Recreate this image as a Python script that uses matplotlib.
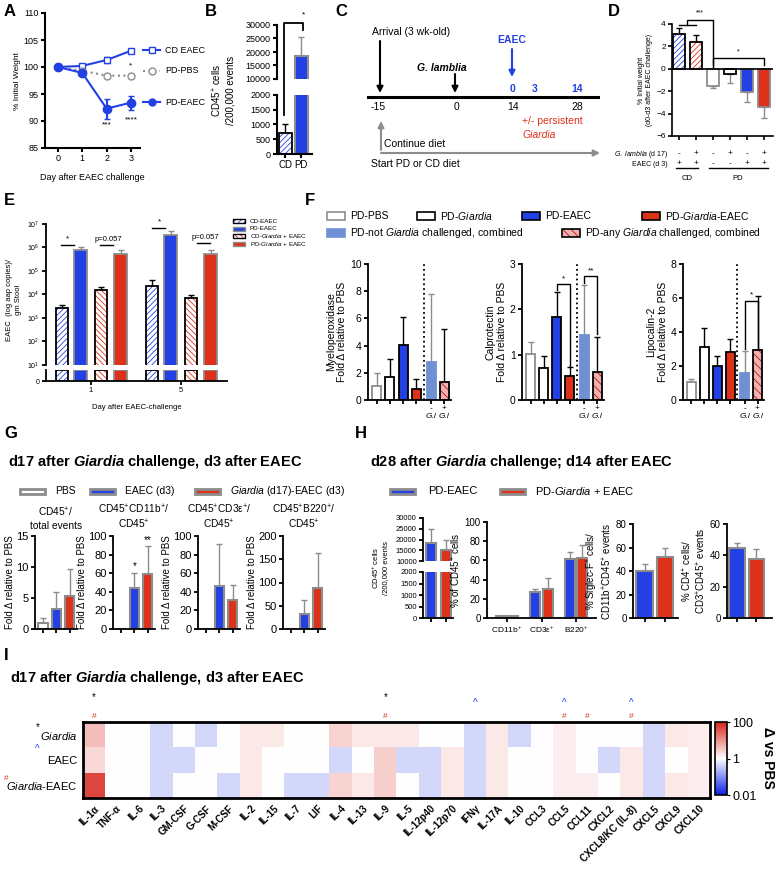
import matplotlib
matplotlib.use('Agg')
import matplotlib.pyplot as plt
from matplotlib.patches import Rectangle
from matplotlib.colors import LinearSegmentedColormap

plt.rcParams['font.family'] = ['Liberation Sans', 'DejaVu Sans']
plt.rcParams['mathtext.fontset'] = 'custom'
plt.rcParams['mathtext.rm'] = 'Liberation Sans'
plt.rcParams['mathtext.it'] = 'Liberation Sans:italic'
plt.rcParams['mathtext.bf'] = 'Liberation Sans:bold'
plt.rcParams['mathtext.bfit'] = 'Liberation Sans:bold:italic'
plt.rcParams['hatch.linewidth'] = 0.6
plt.rcParams['axes.linewidth'] = 1.2

BLUE = '#2340e4'
RED = '#dd3219'
GREY = '#8c8c8c'
LBLUE = '#7090d4'
PINK = '#f2b0b0'

# ---------------- data ----------------
# A: weight after EAEC challenge
days = [0, 1, 2, 3]
cd_eaec_wt = [100, 100.2, 101.3, 103.0]
cd_eaec_sd = [0.2, 0.4, 0.6, 0.4]
pd_pbs_wt = [100, 99.3, 98.4, 98.4]
pd_pbs_sd = [0.2, 0.3, 0.3, 0.3]
pd_eaec_wt = [100, 98.9, 92.3, 93.4]
pd_eaec_sd = [0.2, 0.4, 1.85, 1.3]

# B: CD45+ cells
b_groups = ['CD', 'PD']
b_cells = [700, 18500]
b_sd = [300, 7000]

# D: weight change d0-d3
d_change = [3.1, 2.4, -1.5, -0.5, -2.1, -3.4]
d_sd = [0.5, 0.6, 0.2, 0.8, 0.9, 1.0]
d_glamblia = ['-', '+', '-', '+', '-', '+']
d_eaec = ['+', '+', '-', '-', '+', '+']

# E: EAEC shedding
e_days = ['1', '5']
e_labels = ['CD-EAEC', 'PD-EAEC', r'CD-$\it{Giardia}$ + EAEC', r'PD-$\it{Giardia}$ + EAEC']
e_cd_eaec = [2.7e3, 2.3e4]
e_cd_eaec_sd = [1.0e3, 2.0e4]
e_pd_eaec = [7.5e5, 3.3e6]
e_pd_eaec_sd = [3.0e5, 1.5e6]
e_cd_gi = [1.5e4, 7.2e3]
e_cd_gi_sd = [5.0e3, 2.0e3]
e_pd_gi = [5.5e5, 5.2e5]
e_pd_gi_sd = [2.5e5, 2.5e5]

# F: fecal markers
f_labels = ['PD-PBS', r'PD-$\it{Giardia}$', 'PD-EAEC', r'PD-$\it{Giardia}$-EAEC',
            r'PD-not $\it{Giardia}$ challenged, combined', r'PD-any $\it{Giardia}$ challenged, combined']
f_mpo = [1.05, 1.72, 4.05, 0.79, 2.78, 1.35]
f_mpo_sd = [0.95, 1.3, 2.05, 0.75, 5.0, 3.9]
f_cal = [1.01, 0.71, 1.84, 0.52, 1.44, 0.61]
f_cal_sd = [0.26, 0.25, 0.54, 0.2, 1.09, 0.79]
f_lcn = [1.05, 3.1, 2.02, 2.81, 1.57, 2.95]
f_lcn_sd = [0.2, 1.16, 0.58, 0.79, 1.33, 3.15]

# G: d17 flow
g_titles = [r'CD45$^{+}$/' + '\ntotal events', r'CD45$^{+}$CD11b$^{+}$/' + '\n' + r'CD45$^{+}$',
            r'CD45$^{+}$CD3ε$^{+}$/' + '\n' + r'CD45$^{+}$', r'CD45$^{+}$B220$^{+}$/' + '\n' + r'CD45$^{+}$']
g_pbs = [1.0, 0.5, 0.3, 1.0]
g_pbs_sd = [0.7, 0, 0, 0]
g_eaec = [3.2, 44, 46, 32]
g_eaec_sd = [2.8, 16, 45, 30]
g_gi = [5.4, 59, 31, 89]
g_gi_sd = [4.3, 30.5, 16, 75]
g_ymax = [15, 100, 100, 200]
g_step = [5, 20, 20, 50]

# H: d28 flow
h_cells = [18400, 15300]
h_cells_sd = [6600, 4400]
h_pop = ['CD11b$^{+}$', 'CD3ε$^{+}$', 'B220$^{+}$']
h_pop_eaec = [2, 27, 61]
h_pop_eaec_sd = [0.3, 3, 8]
h_pop_gi = [2, 30.7, 62]
h_pop_gi_sd = [0.3, 11.3, 14]
h_siglec = [40, 52.2]
h_siglec_sd = [5.6, 7.1]
h_cd4 = [44.5, 37.4]
h_cd4_sd = [3.5, 6.4]

# I: cytokine heatmap (log10 fold vs PBS)
cytokines = ['IL-1α', 'TNF-α', 'IL-6', 'IL-3', 'GM-CSF', 'G-CSF', 'M-CSF', 'IL-2', 'IL-15', 'IL-7',
             'LIF', 'IL-4', 'IL-13', 'IL-9', 'IL-5', 'IL-12p40', 'IL-12p70', 'IFNγ', 'IL-17A', 'IL-10',
             'CCL3', 'CCL5', 'CCL11', 'CXCL2', 'CXCL8/KC (IL-8)', 'CXCL5', 'CXCL9', 'CXCL10']
heat_giardia = [0.6, 0, 0, -0.35, 0, -0.35, 0, 0.2, 0.2, 0, 0, 0.4, 0.2, 0.2, 0.2, 0, 0, -0.35,
                0.2, -0.35, 0, 0.15, 0, 0, 0, -0.35, 0.2, 0.15]
heat_eaec = [0.35, 0, 0, -0.35, -0.35, 0, 0, 0.2, 0, 0, 0, -0.35, 0, 0.45, -0.35, -0.35, 0.2, -0.35,
             0.2, 0, 0, 0.15, 0, -0.35, 0.2, -0.35, 0, 0.15]
heat_gi_eaec = [1.7, 0, 0, -0.35, 0, 0, -0.35, 0.2, 0, -0.35, -0.35, 0.4, 0.2, 0.45, 0, -0.35, 0.2, -0.35,
                0.2, 0, 0, 0.15, 0.15, 0, 0.2, -0.35, 0.2, 0.15]
star_cols = ['IL-1α', 'IL-9']
caret_cols = ['IFNγ', 'CCL5', 'CXCL8/KC (IL-8)']
hash_cols = ['IL-1α', 'IL-9', 'CCL5', 'CCL11', 'CXCL8/KC (IL-8)']

# ---------------- helpers ----------------
W, H = 776, 872
fig = plt.figure(figsize=(W / 100, H / 100), dpi=100)


def px_axes(x0, y0, x1, y1):
    return fig.add_axes([x0 / W, 1 - y1 / H, (x1 - x0) / W, (y1 - y0) / H])


def style(ax, fs=6.5, lw=1.2):
    for s in ['top', 'right']:
        ax.spines[s].set_visible(False)
    for s in ['left', 'bottom']:
        ax.spines[s].set_linewidth(lw)
    ax.tick_params(labelsize=fs, width=lw, length=3, pad=1.5)


def draw_bar(ax, x, h, w, face='white', edge='black', lw=1.2, hatch=None, hcol=None,
             err=None, ecol=None, bottom=0, z=2):
    if hatch:
        ax.bar(x, h, w, bottom=bottom, color=face, edgecolor=hcol, hatch=hatch, linewidth=0, zorder=z)
        ax.bar(x, h, w, bottom=bottom, facecolor='none', edgecolor=edge, linewidth=lw, zorder=z + 0.1)
    else:
        ax.bar(x, h, w, bottom=bottom, color=face, edgecolor=edge, linewidth=lw, zorder=z)
    if err:
        top = bottom + h
        yerr = [[0], [err]] if h >= 0 else [[err], [0]]
        ax.errorbar([x], [top], yerr=yerr, fmt='none', ecolor=ecol or edge, elinewidth=1,
                    capsize=2, capthick=1, zorder=z - 0.5)


# overlay for text, arrows and legends in pixel coordinates
ov = fig.add_axes([0, 0, 1, 1], zorder=10)
ov.set_xlim(0, W)
ov.set_ylim(H, 0)
ov.axis('off')


def T(x, y, s, **kw):
    kw.setdefault('va', 'center')
    ov.text(x, y, s, **kw)


def L(xs, ys, **kw):
    kw.setdefault('color', 'black')
    kw.setdefault('lw', 1)
    ov.plot(xs, ys, **kw)


def box(x, y, w, h, **kw):
    ov.add_patch(Rectangle((x, y - h / 2), w, h, **kw))


def arrow(x0, y0, x1, y1, color='black', lw=1.5):
    ov.annotate('', xy=(x1, y1), xytext=(x0, y0),
                arrowprops=dict(arrowstyle='-|>', color=color, lw=lw, mutation_scale=9, shrinkA=0, shrinkB=0))


for lab, x, y in [('A', 4, 12), ('B', 205, 12), ('C', 335, 12), ('D', 608, 12), ('E', 4, 200),
                  ('F', 305, 200), ('G', 4, 433), ('H', 355, 433), ('I', 4, 655)]:
    T(x, y, lab, fontsize=12, fontweight='bold')

# ---------------- A ----------------
axA = px_axes(45, 13, 140, 148)
style(axA, fs=6.5, lw=1.5)
axA.errorbar(days, cd_eaec_wt, yerr=cd_eaec_sd, color=BLUE, marker='s', mfc='white', mec=BLUE,
             ms=5, lw=1.5, capsize=2, clip_on=False)
axA.errorbar(days, pd_pbs_wt, yerr=pd_pbs_sd, color=GREY, ls=':', marker='o', mfc='white', mec=GREY,
             ms=5, lw=1.5, capsize=2, clip_on=False)
axA.errorbar(days, pd_eaec_wt, yerr=pd_eaec_sd, color=BLUE, marker='o', ms=6, lw=1.5, capsize=2,
             clip_on=False)
axA.set_xlim(-0.53, 3.37)
axA.set_ylim(85, 110)
axA.set_yticks(range(85, 111, 5))
axA.set_xticks(days)
axA.set_ylabel('% Initial Weight', fontsize=6, labelpad=2)
axA.set_xlabel('Day after EAEC challenge', fontsize=6.5, labelpad=7)
for lab, y, kw in [('CD EAEC', 103.1, dict(color=BLUE, marker='s', mfc='white', ls='-')),
                   ('PD-PBS', 99.3, dict(color=GREY, marker='o', mfc='white', ls=':')),
                   ('PD-EAEC', 93.5, dict(color=BLUE, marker='o', ls='-'))]:
    axA.plot([3.5, 4.2], [y, y], clip_on=False, lw=1.5, **{k: v for k, v in kw.items() if k in ('color', 'ls')})
    axA.plot([3.85], [y], clip_on=False, ms=5, **{k: v for k, v in kw.items() if k != 'ls'})
    axA.text(4.4, y, lab, fontsize=6.5, va='center')
axA.text(3, 99.6, '*', ha='center', va='bottom', fontsize=6)
axA.text(2, 89.3, '***', ha='center', va='center', fontsize=6)
axA.text(3, 90.2, '****', ha='center', va='center', fontsize=6)

# ---------------- B ----------------
bx = [0, 1]
axBt = px_axes(277, 25, 312, 79)
axBb = px_axes(277, 95, 312, 154)
for ax in (axBt, axBb):
    style(ax, fs=6.5, lw=1.5)
    ax.set_xlim(-0.5, 1.65)
axBt.spines['bottom'].set_visible(False)
axBt.set_xticks([])
axBt.set_ylim(10000, 30000)
axBt.set_yticks(range(10000, 30001, 5000))
axBb.set_ylim(0, 2000)
axBb.set_yticks(range(0, 2001, 500))
axBb.set_xticks(bx)
axBb.set_xticklabels(b_groups, fontsize=7)
draw_bar(axBb, bx[0], b_cells[0], 0.8, face='white', edge='black', lw=1.3, hatch='//////', hcol=BLUE,
         err=b_sd[0], ecol='black')
draw_bar(axBb, bx[1], b_cells[1], 0.8, face=BLUE, edge=GREY, lw=1.5)
draw_bar(axBt, bx[1], b_cells[1], 0.8, face=BLUE, edge=GREY, lw=1.5, err=b_sd[1], ecol=GREY)
T(223, 90, r'CD45$^{+}$ cells' + '\n/200,000 events', fontsize=7, rotation=90, ha='center')
L([284, 284, 303, 303], [115, 23, 23, 30], lw=1.3)
T(303, 15, '*', fontsize=6, ha='center')

# ---------------- C ----------------
L([368, 598], [97, 97], lw=2.2)
for s, x in [('-15', 378), ('0', 457), ('14', 513), ('28', 577)]:
    T(x, 107, s, fontsize=7.5, ha='center')
for s, x in [('0', 512), ('3', 535), ('14', 577)]:
    T(x, 89, s, fontsize=7.5, ha='center', color=BLUE, fontweight='bold')
T(372, 32, 'Arrival (3 wk-old)', fontsize=7.5)
arrow(380, 41, 380, 93)
T(442, 68, 'G. lamblia', fontsize=7.5, ha='center', fontweight='bold', style='italic')
arrow(455, 74, 455, 93)
T(512, 40, 'EAEC', fontsize=7.5, ha='center', fontweight='bold', color=BLUE)
arrow(512, 49, 512, 77, color=BLUE)
T(522, 121, '+/- persistent', fontsize=7.5, color=RED)
T(522, 135, 'Giardia', fontsize=7.5, color=RED, style='italic')
arrow(381, 150, 381, 121, color=GREY)
T(384, 144, 'Continue diet', fontsize=7.5)
arrow(381, 153, 600, 153, color=GREY)
T(371, 164, 'Start PD or CD diet', fontsize=7.5)

# ---------------- D ----------------
axD = px_axes(672, 24, 773, 136)
style(axD, fs=6, lw=1.2)
dx = list(range(6))
d_styles = [dict(face='white', edge='black', hatch='//////', hcol=BLUE, ecol='black'),
            dict(face='white', edge='black', hatch='//////', hcol=RED, ecol='black'),
            dict(face='white', edge=GREY, ecol=GREY),
            dict(face='white', edge='black', ecol=GREY),
            dict(face=BLUE, edge=GREY, ecol=GREY),
            dict(face=RED, edge=GREY, ecol=GREY)]
for x, v, e, st in zip(dx, d_change, d_sd, d_styles):
    draw_bar(axD, x, v, 0.7, lw=1.3, err=e, **st)
axD.axhline(0, color='black', lw=1.2, zorder=3)
axD.set_xlim(-0.41, 5.53)
axD.set_ylim(-6, 4)
axD.set_yticks(range(-6, 5, 2))
axD.set_xticks(dx)
axD.set_xticklabels([])
axD.set_ylabel('% Initial weight\n(d0-d3 after EAEC challenge)', fontsize=5, labelpad=2)
axD.plot([0.5, 0.5, 2, 2], [3.9, 4.4, 4.4, 0.15], color='black', lw=1, clip_on=False)
axD.plot([0, 1], [3.9, 3.9], color='black', lw=1, clip_on=False)
axD.text(1.2, 4.7, '***', ha='center', va='bottom', fontsize=5)
axD.plot([2, 2, 5, 5], [0.3, 1.0, 1.0, 0.3], color='black', lw=1, clip_on=False)
axD.text(3.5, 1.2, '*', ha='center', va='bottom', fontsize=5)
trD = axD.get_xaxis_transform()
for x, g, e in zip(dx, d_glamblia, d_eaec):
    axD.text(x, -0.16, g, transform=trD, ha='center', va='center', fontsize=6)
    axD.text(x, -0.25, e, transform=trD, ha='center', va='center', fontsize=6)
T(668, 154, r'$\it{G.\ lamblia}$ (d 17)', fontsize=5, ha='right')
T(668, 164, 'EAEC (d 3)', fontsize=5, ha='right')
L([676, 698], [168, 168])
L([709, 768], [168, 168])
T(687, 178, 'CD', fontsize=5.5, ha='center')
T(738, 178, 'PD', fontsize=5.5, ha='center')

# ---------------- E ----------------
axEt = px_axes(46, 224, 227, 365)
axEb = px_axes(46, 370, 227, 381)
for ax in (axEt, axEb):
    style(ax, fs=5, lw=1.3)
    ax.set_xlim(-2.31, 6.97)
axEt.set_yscale('log')
axEt.set_ylim(10, 1e7)
axEt.set_yticks([10 ** k for k in range(1, 8)])
axEt.set_yticklabels([r'$10^{%d}$' % k for k in range(1, 8)])
axEt.minorticks_off()
axEt.spines['bottom'].set_visible(False)
axEt.set_xticks([])
axEb.set_ylim(0, 1)
axEb.set_yticks([0])
e_centers = [0, 4.615]
axEb.set_xticks(e_centers)
axEb.set_xticklabels(e_days, fontsize=5.5)
axEb.set_xlabel('Day after EAEC-challenge', fontsize=5.5, labelpad=7)
e_series = [(e_cd_eaec, e_cd_eaec_sd, dict(face='white', edge='black', hatch='//////', hcol=BLUE, ecol='black')),
            (e_pd_eaec, e_pd_eaec_sd, dict(face=BLUE, edge=GREY, ecol=GREY)),
            (e_cd_gi, e_cd_gi_sd, dict(face='white', edge='black', hatch='\\\\\\\\\\\\', hcol=RED, ecol='black')),
            (e_pd_gi, e_pd_gi_sd, dict(face=RED, edge=GREY, ecol=GREY))]
e_off = [-1.49, -0.54, 0.51, 1.51]
for (vals, sds, st), off in zip(e_series, e_off):
    for c, v, s in zip(e_centers, vals, sds):
        draw_bar(axEt, c + off, v - 1, 0.65, bottom=1, lw=1.3, err=s, **st)
        draw_bar(axEb, c + off, 1, 0.65, lw=1.3, **{k: v2 for k, v2 in st.items() if k != 'ecol'})
T(14, 300, 'EAEC  (log aap copies)/\ngm Stool', fontsize=5.5, rotation=90, ha='center')
L([61, 74], [245, 245])
T(68, 239, '*', fontsize=6, ha='center')
L([100, 113], [245, 245])
T(108, 239, 'p=0.057', fontsize=5.5, ha='center')
L([152, 165], [228, 228])
T(159, 222, '*', fontsize=6, ha='center')
L([197, 210], [243, 243])
T(205, 237, 'p=0.057', fontsize=5.5, ha='center')
for i, lab in enumerate(e_labels):
    y = 221 + 7.5 * i
    st = e_series[i][2]
    if 'hatch' in st:
        box(233, y, 12, 4, facecolor='white', edgecolor=st['hcol'], hatch=st['hatch'], lw=0)
        box(233, y, 12, 4, facecolor='none', edgecolor='black', lw=1)
    else:
        box(233, y, 12, 4, facecolor=st['face'], edgecolor=st['edge'], lw=1)
    T(250, y, lab, fontsize=4.5)

# ---------------- F ----------------
fx = [0, 1, 2, 3, 4.1, 5.1]
f_styles = [dict(face='white', edge=GREY, ecol=GREY),
            dict(face='white', edge='black', ecol='black'),
            dict(face=BLUE, edge='black', ecol='black'),
            dict(face=RED, edge='black', ecol='black'),
            dict(face=LBLUE, edge=LBLUE, ecol=GREY),
            dict(face=PINK, edge='black', hatch='\\\\\\\\', hcol='#b01818', ecol='black')]
f_panels = [((368, 264, 451, 400), f_mpo, f_mpo_sd, 10, 2, 'Myeloperoxidase'),
            ((522, 264, 604, 400), f_cal, f_cal_sd, 3, 1, 'Calprotectin'),
            ((683, 264, 764, 400), f_lcn, f_lcn_sd, 8, 2, 'Lipocalin-2')]
f_axes = []
for rect, vals, sds, ymax, step, name in f_panels:
    ax = px_axes(*rect)
    style(ax, fs=7.5, lw=1.3)
    for x, v, s, st in zip(fx, vals, sds, f_styles):
        draw_bar(ax, x, v, 0.68, lw=1.3, err=s, **st)
    ax.axvline(3.55, color='black', ls=':', lw=1.3)
    ax.set_xlim(-0.65, 5.6)
    ax.set_ylim(0, ymax)
    ax.set_yticks(range(0, ymax + 1, step))
    ax.set_xticks(fx)
    ax.set_xticklabels(['', '', '', '', '-', '+'], fontsize=6)
    ax.tick_params(axis='x', pad=0.5)
    tr = ax.get_xaxis_transform()
    for x in fx[4:]:
        ax.text(x, -0.12, 'G.l', transform=tr, ha='center', va='center', fontsize=6, style='italic')
    ax.set_ylabel(name + '\nFold Δ relative to PBS', fontsize=7.5, labelpad=2)
    f_axes.append(ax)
axc = f_axes[1]
axc.plot([2, 2, 3, 3], [2.42, 2.56, 2.56, 0.75], color='black', lw=1, clip_on=False)
axc.text(2.5, 2.6, '*', ha='center', va='bottom', fontsize=6)
axc.plot([4.1, 4.1, 5.1, 5.1], [2.58, 2.73, 2.73, 1.45], color='black', lw=1, clip_on=False)
axc.text(4.6, 2.76, '**', ha='center', va='bottom', fontsize=6)
axl = f_axes[2]
axl.plot([4.1, 4.1, 5.1, 5.1], [3.0, 5.8, 5.8, 3.0], color='black', lw=1, clip_on=False)
axl.text(4.6, 5.95, '*', ha='center', va='bottom', fontsize=6)
f_leg_pos = [(327, 216), (417, 216), (522, 216), (642, 216), (327, 233), (562, 233)]
for (x, y), lab, st in zip(f_leg_pos, f_labels, f_styles):
    if 'hatch' in st:
        box(x, y, 18, 8, facecolor=st['face'], edgecolor=st['hcol'], hatch=st['hatch'], lw=0)
        box(x, y, 18, 8, facecolor='none', edgecolor='black', lw=1.2)
    else:
        box(x, y, 18, 8, facecolor=st['face'], edgecolor=st['edge'], lw=1.2)
    T(x + 23, y, lab, fontsize=7.5)

# ---------------- G ----------------
T(8, 462, r'd17 after $\mathbfit{Giardia}$ challenge, d3 after EAEC', fontsize=10.5, fontweight='bold')
g_leg = [(20, 'PBS', 'white'), (90, 'EAEC (d3)', BLUE), (195, r'$\it{Giardia}$ (d17)-EAEC (d3)', RED)]
for x, lab, c in g_leg:
    box(x, 491, 25, 5, facecolor=c, edgecolor=GREY, lw=2)
    T(x + 35, 491, lab, fontsize=7.5)
g_rects = [(35, 536, 77, 629), (113, 536, 155, 629), (198, 536, 240, 629), (283, 536, 325, 629)]
g_axes = []
for i, rect in enumerate(g_rects):
    ax = px_axes(*rect)
    style(ax, fs=8, lw=1.3)
    draw_bar(ax, 0, g_pbs[i], 0.7, face='white', edge=GREY, lw=1.5, err=g_pbs_sd[i], ecol=GREY)
    draw_bar(ax, 1, g_eaec[i], 0.7, face=BLUE, edge=GREY, lw=1.5, err=g_eaec_sd[i], ecol=GREY)
    draw_bar(ax, 2, g_gi[i], 0.7, face=RED, edge=GREY, lw=1.5, err=g_gi_sd[i], ecol=GREY)
    ax.set_xlim(-0.6, 2.55)
    ax.set_ylim(0, g_ymax[i])
    ax.set_yticks(range(0, g_ymax[i] + 1, g_step[i]))
    ax.set_xticks([0, 1, 2])
    ax.set_xticklabels([])
    ax.set_ylabel('Fold Δ relative to PBS', fontsize=7, labelpad=1)
    ax.set_title(g_titles[i], fontsize=7.3, pad=5, linespacing=1.25)
    g_axes.append(ax)
g_axes[1].text(1, g_eaec[1] + g_eaec_sd[1] + 2, '*', ha='center', va='bottom', fontsize=7)
g_axes[1].text(2, g_gi[1] + g_gi_sd[1] + 1, '**', ha='center', va='bottom', fontsize=7)

# ---------------- H ----------------
T(370, 462, r'd28 after $\mathbfit{Giardia}$ challenge; d14 after EAEC', fontsize=10.5, fontweight='bold')
box(390, 491, 25, 5, facecolor=BLUE, edgecolor=GREY, lw=2)
T(428, 491, 'PD-EAEC', fontsize=8)
box(500, 491, 25, 5, facecolor=RED, edgecolor=GREY, lw=2)
T(535, 491, r'PD-$\it{Giardia}$ + EAEC', fontsize=8)
hx = [0, 1]
axHt = px_axes(423, 518, 453, 561)
axHb = px_axes(423, 572, 453, 618)
for ax in (axHt, axHb):
    style(ax, fs=5.5, lw=1.3)
    ax.set_xlim(-0.53, 1.47)
axHt.spines['bottom'].set_visible(False)
axHt.set_xticks([])
axHt.set_ylim(10000, 30000)
axHt.set_yticks(range(10000, 30001, 5000))
axHb.set_ylim(0, 2000)
axHb.set_yticks(range(0, 2001, 500))
axHb.set_xticks(hx)
axHb.set_xticklabels([])
for x, v, s, c in zip(hx, h_cells, h_cells_sd, [BLUE, RED]):
    draw_bar(axHb, x, v, 0.7, face=c, edge=GREY, lw=1.5)
    draw_bar(axHt, x, v, 0.7, face=c, edge=GREY, lw=1.5, err=s, ecol=GREY)
T(380, 568, r'CD45$^{+}$ cells' + '\n/200,000 events', fontsize=5.5, rotation=90, ha='center')

axH2 = px_axes(487, 522, 596, 618)
style(axH2, fs=7, lw=1.3)
for i in range(3):
    draw_bar(axH2, i - 0.18, h_pop_eaec[i], 0.3, face=BLUE, edge=GREY, lw=1.5, err=h_pop_eaec_sd[i], ecol=GREY)
    draw_bar(axH2, i + 0.18, h_pop_gi[i], 0.3, face=RED, edge=GREY, lw=1.5, err=h_pop_gi_sd[i], ecol=GREY)
axH2.set_xlim(-0.58, 2.58)
axH2.set_ylim(0, 100)
axH2.set_yticks(range(0, 101, 20))
axH2.set_xticks([0, 1, 2])
axH2.set_xticklabels(h_pop, fontsize=6)
axH2.set_ylabel(r'% of CD45$^{+}$ cells', fontsize=7, labelpad=1)

for rect, vals, sds, ymax, xl, lab in [((633, 524, 678, 618), h_siglec, h_siglec_sd, 80, (-0.56, 1.63),
                                        r'% Siglec-F$^{+}$ cells/' + '\n' + r'CD11b$^{+}$CD45$^{+}$ events'),
                                       ((727, 524, 772, 618), h_cd4, h_cd4_sd, 60, (-0.51, 1.8),
                                        r'% CD4$^{+}$ cells/' + '\n' + r'CD3$^{+}$CD45$^{+}$ events')]:
    ax = px_axes(*rect)
    style(ax, fs=7, lw=1.3)
    for x, v, s, c in zip(hx, vals, sds, [BLUE, RED]):
        draw_bar(ax, x, v, 0.8, face=c, edge=GREY, lw=1.5, err=s, ecol=GREY)
    ax.set_xlim(*xl)
    ax.set_ylim(0, ymax)
    ax.set_yticks(range(0, ymax + 1, 20))
    ax.set_xticks(hx)
    ax.set_xticklabels([])
    ax.set_ylabel(lab, fontsize=7, labelpad=1, linespacing=1.1)

# ---------------- I ----------------
T(10, 678, r'd17 after $\mathbfit{Giardia}$ challenge, d3 after EAEC', fontsize=10.5, fontweight='bold')
cmap = LinearSegmentedColormap.from_list('bwr2', ['#0a1fe6', '#ffffff', '#d7261b'])
axI = px_axes(83, 722, 710, 798)
im = axI.imshow([heat_giardia, heat_eaec, heat_gi_eaec], cmap=cmap, vmin=-2, vmax=2,
                aspect='auto', interpolation='nearest')
for s in axI.spines.values():
    s.set_linewidth(2)
axI.set_xticks(range(len(cytokines)))
axI.set_xticklabels(cytokines, rotation=45, ha='right', rotation_mode='anchor', fontsize=7, fontweight='bold')
axI.set_yticks([0, 1, 2])
axI.set_yticklabels([r'$\it{Giardia}$', 'EAEC', r'$\it{Giardia}$-EAEC'], fontsize=8)
axI.tick_params(length=0, pad=4)
for c in star_cols:
    axI.text(cytokines.index(c), -1.5, '*', ha='center', va='center', fontsize=7, clip_on=False)
for c in caret_cols:
    axI.text(cytokines.index(c), -1.25, '^', ha='center', va='center', fontsize=7, color=BLUE, clip_on=False)
for c in hash_cols:
    axI.text(cytokines.index(c), -0.72, '#', ha='center', va='center', fontsize=6, color=RED, clip_on=False)
T(38, 727, '*', fontsize=7, ha='center')
T(37, 749, '^', fontsize=7, ha='center', color=BLUE)
T(6, 778, '#', fontsize=6, ha='center', color=RED)
cax = px_axes(715, 722, 727, 795)
cb = fig.colorbar(im, cax=cax, ticks=[-2, 0, 2])
cb.ax.set_yticklabels(['0.01', '1', '100'], fontsize=9)
cb.ax.tick_params(length=2, pad=2)
cb.outline.set_linewidth(1.2)
T(768, 758, 'Δ vs PBS', fontsize=10, fontweight='bold', rotation=270, ha='center')

fig.savefig('out.png', dpi=100)
